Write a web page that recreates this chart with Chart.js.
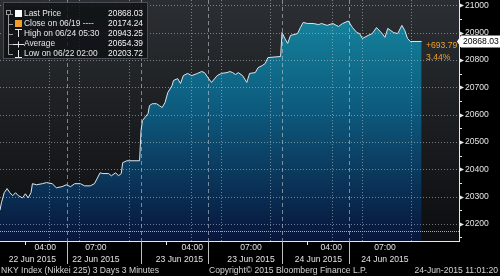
<!DOCTYPE html>
<html>
<head>
<meta charset="utf-8">
<script src="https://cdn.jsdelivr.net/npm/chart.js@4.4.1/dist/chart.umd.min.js"></script>
<style>
  html, body { margin: 0; padding: 0; background: #000; }
  canvas { display: block; }
</style>
</head>
<body>
<canvas id="nky" width="500" height="276"></canvas>
<script>
// NKY 3 days, 3 minute bars (x = bar number, 100 bars per trading day)
const bars = [
    0, 1, 3, 5, 7, 9, 11, 13, 16, 18, 20, 22, 23, 26, 30, 33, 37, 40, 44, 47,
    50, 53, 57, 60, 64, 67, 71, 73, 77, 79, 82, 84, 86, 87, 90, 99,
    100, 101, 105, 106, 108, 111, 113, 115, 117, 119, 122, 123, 126, 128, 130, 133, 136, 140,
    143, 145, 148, 150, 154, 157, 161, 163, 165, 167, 169, 172, 175, 177, 181, 183, 186, 188, 190, 199,
    200, 202, 204, 206, 211, 213, 215, 218, 222, 226, 228, 232, 236, 240, 243, 247, 250, 253,
    255, 257, 261, 264, 267, 271, 273, 275, 279, 282, 285, 287, 289, 291, 299
];
const prices = [
    20250, 20277, 20314, 20329, 20314, 20303, 20314, 20303, 20295, 20310, 20295, 20314, 20347, 20343, 20347, 20351, 20347, 20332, 20336, 20343,
    20336, 20347, 20347, 20339, 20339, 20347, 20387, 20384, 20384, 20376, 20387, 20376, 20384, 20424, 20431, 20431,
    20541, 20578, 20604, 20633, 20640, 20640, 20633, 20626, 20644, 20681, 20706, 20725, 20732, 20714, 20743, 20751, 20743, 20751,
    20758, 20754, 20732, 20718, 20743, 20751, 20754, 20758, 20754, 20747, 20754, 20743, 20718, 20751, 20754, 20772, 20780, 20787, 20809, 20813,
    20901, 20879, 20861, 20890, 20897, 20919, 20938, 20934, 20934, 20930, 20934, 20927, 20934, 20923, 20934, 20943, 20919, 20901,
    20897, 20879, 20890, 20897, 20919, 20897, 20883, 20916, 20901, 20897, 20927, 20909, 20879, 20868, 20868.03
];

const lastPrice = 20868.03;
const prevClose = 20174.24;
const highPrice = 20943.25;
const avgPrice = 20654.39;
const lowPrice = 20203.72;

const yTicks = [20200, 20300, 20400, 20500, 20600, 20700, 20800, 20900, 21000];
const yMinorTicks = [20150, 20250, 20350, 20450, 20550, 20650, 20750, 20850, 20950];

const gridBars = [35, 56, 91.5, 135.5, 156.5, 191.5, 235.5, 256.5, 291.5];
const sessionBars = [47.5, 100, 147.5, 200, 247.5];
const minorBars = [18, 118, 218];

const labelTimes = ['04:00', '07:00', '04:00', '07:00', '04:00', '07:00'];
const labelDates = ['22 Jun 2015', '22 Jun 2015', '23 Jun 2015', '23 Jun 2015', '24 Jun 2015', '24 Jun 2015'];
const labelBars = [39.7, 68, 144, 178, 242.5, 273];
const labelAlign = ['right', 'center', 'right', 'center', 'right', 'center'];

const legendNames = ['Last Price', 'Close on 06/19 ----', 'High on 06/24 05:30', 'Average', 'Low on 06/22 02:00'];
const legendValues = [lastPrice, prevClose, highPrice, avgPrice, lowPrice];

const FAMILY = '"Liberation Sans", Arial, sans-serif';
const FONT = '8.6px ' + FAMILY;
const ORANGE = '#f0a028';

function line(ctx, x1, y1, x2, y2) {
    ctx.beginPath();
    ctx.moveTo(x1, y1);
    ctx.lineTo(x2, y2);
    ctx.stroke();
}

function drawGrid(chart) {
    const { ctx, chartArea: a, scales: { x, y } } = chart;
    ctx.save();
    ctx.lineWidth = 1;
    ctx.strokeStyle = 'rgba(190,200,210,0.55)';
    ctx.setLineDash([1, 2]);
    yTicks.forEach(v => {
        const py = Math.round(y.getPixelForValue(v)) + 0.5;
        line(ctx, a.left, py, a.right, py);
    });
    gridBars.forEach(b => {
        const px = Math.round(x.getPixelForValue(b)) + 0.5;
        line(ctx, px, a.top, px, a.bottom);
    });
    ctx.setLineDash([4, 3]);
    ctx.strokeStyle = 'rgba(190,200,210,0.6)';
    sessionBars.forEach(b => {
        const px = Math.round(x.getPixelForValue(b)) + 0.5;
        line(ctx, px, a.top, px, a.bottom);
    });
    // previous close
    ctx.setLineDash([1, 1]);
    ctx.strokeStyle = '#e39a63';
    const cy = Math.round(y.getPixelForValue(prevClose)) + 0.5;
    line(ctx, a.left, cy, a.right, cy);
    ctx.restore();
}

function drawAxes(chart) {
    const { ctx, chartArea: a, scales: { x, y } } = chart;
    ctx.save();
    ctx.strokeStyle = '#e8e8e8';
    ctx.fillStyle = '#e8e8e8';
    ctx.lineWidth = 1;
    line(ctx, a.right + 0.5, a.top, a.right + 0.5, a.bottom + 1);
    line(ctx, a.left, a.bottom + 0.5, a.right + 1, a.bottom + 0.5);

    yTicks.forEach(v => {
        const py = Math.round(y.getPixelForValue(v)) + 0.5;
        ctx.beginPath();
        ctx.moveTo(a.right, py - 2.5);
        ctx.lineTo(a.right + 5, py);
        ctx.lineTo(a.right, py + 2.5);
        ctx.closePath();
        ctx.fill();
    });
    yMinorTicks.forEach(v => {
        const py = Math.round(y.getPixelForValue(v)) + 0.5;
        line(ctx, a.right, py, a.right + 3, py);
    });

    minorBars.forEach(b => {
        const px = Math.round(x.getPixelForValue(b)) + 0.5;
        line(ctx, px, a.bottom, px, a.bottom + 4);
    });
    ctx.strokeStyle = '#bfbfbf';
    sessionBars.forEach(b => {
        const px = Math.round(x.getPixelForValue(b)) + 0.5;
        line(ctx, px, a.bottom, px, a.bottom + 23);
    });

    ctx.font = FONT;
    ctx.fillStyle = '#e2e2e2';
    ctx.textBaseline = 'middle';
    labelBars.forEach((b, i) => {
        const px = x.getPixelForValue(b);
        ctx.textAlign = labelAlign[i];
        ctx.fillText(labelTimes[i], px, a.bottom + 6.5);
        ctx.fillText(labelDates[i], px, a.bottom + 18.5);
    });
    ctx.restore();
}

function drawLegend(chart) {
    const ctx = chart.ctx;
    ctx.save();
    ctx.fillStyle = 'rgba(14,16,19,0.82)';
    ctx.fillRect(3.5, 2.5, 144, 56);
    ctx.strokeStyle = '#4b4f54';
    ctx.lineWidth = 1;
    ctx.strokeRect(3.5, 2.5, 144, 56);

    const rowY = [13.5, 23.5, 33.5, 44, 54];
    // tree connector
    ctx.strokeStyle = '#9a9a9a';
    line(ctx, 8.5, 14, 8.5, 54.5);
    rowY.forEach(ry => line(ctx, 8.5, Math.round(ry) + 0.5, 13, Math.round(ry) + 0.5));
    ctx.strokeRect(6.5, 10.5, 4, 4);

    // icons
    ctx.fillStyle = '#ffffff';
    ctx.fillRect(15, 10, 7, 7);
    ctx.fillStyle = ORANGE;
    ctx.fillRect(15, 20, 7, 7);
    ctx.strokeStyle = '#e8e8e8';
    line(ctx, 15, 29.5, 22, 29.5);
    line(ctx, 18.5, 29.5, 18.5, 37);
    line(ctx, 13, 44.5, 24, 44.5);
    line(ctx, 18.5, 41.5, 18.5, 47.5);
    line(ctx, 18.5, 50, 18.5, 57.5);
    line(ctx, 15, 57.5, 22, 57.5);

    ctx.font = '8.4px ' + FAMILY;
    ctx.textBaseline = 'middle';
    legendNames.forEach((name, i) => {
        ctx.fillStyle = '#e6e6e6';
        ctx.textAlign = 'left';
        ctx.fillText(name, 24, rowY[i]);
        ctx.fillStyle = '#f2f2f2';
        ctx.textAlign = 'right';
        ctx.fillText(legendValues[i].toFixed(2), 143, rowY[i]);
    });
    ctx.restore();
}

function drawLastPrice(chart) {
    const { ctx, chartArea: a, scales: { y } } = chart;
    const py = y.getPixelForValue(lastPrice);
    const change = lastPrice - prevClose;
    const pct = change / prevClose * 100;
    ctx.save();
    ctx.font = FONT;
    ctx.textBaseline = 'middle';
    ctx.fillStyle = ORANGE;
    ctx.textAlign = 'left';
    ctx.fillText('+' + change.toFixed(2), 426, py + 4);
    ctx.fillText(pct.toFixed(2) + '%', 426, py + 16);

    ctx.fillStyle = '#ffffff';
    ctx.beginPath();
    ctx.moveTo(a.right - 2, py);
    ctx.lineTo(a.right + 2, py - 6);
    ctx.lineTo(chart.width, py - 6);
    ctx.lineTo(chart.width, py + 6);
    ctx.lineTo(a.right + 2, py + 6);
    ctx.closePath();
    ctx.fill();
    ctx.fillStyle = '#000000';
    ctx.fillText(lastPrice.toFixed(2), a.right + 4, py + 0.5);
    ctx.restore();
}

function drawFooter(chart) {
    const ctx = chart.ctx;
    ctx.save();
    ctx.font = FONT;
    ctx.fillStyle = '#d4d4d4';
    ctx.textBaseline = 'middle';
    ctx.textAlign = 'left';
    ctx.fillText('NKY Index (Nikkei 225) 3 Days 3 Minutes', 1, 270.5);
    ctx.fillText('Copyright\u00a9 2015 Bloomberg Finance L.P.', 209, 270.5);
    ctx.textAlign = 'right';
    ctx.fillText('24-Jun-2015 11:01:20', 498, 270.5);
    ctx.restore();
}

const bloombergLook = {
    id: 'bloombergLook',
    beforeDraw(chart) {
        const { ctx, chartArea: a } = chart;
        ctx.save();
        ctx.fillStyle = '#000';
        ctx.fillRect(0, 0, chart.width, chart.height);
        const g = ctx.createLinearGradient(0, a.top, 0, a.bottom);
        g.addColorStop(0, '#2b2f33');
        g.addColorStop(1, '#0c0d0f');
        ctx.fillStyle = g;
        ctx.fillRect(a.left, a.top, a.right - a.left, a.bottom - a.top);
        ctx.restore();
    },
    beforeDatasetDraw(chart) {
        drawGrid(chart);
    },
    afterDraw(chart) {
        drawAxes(chart);
        drawLegend(chart);
        drawLastPrice(chart);
        drawFooter(chart);
    }
};

function areaGradient(context) {
    const a = context.chart.chartArea;
    if (!a) return 'transparent';
    const g = context.chart.ctx.createLinearGradient(0, a.top, 0, a.bottom);
    g.addColorStop(0, '#168aa2');
    g.addColorStop(0.45, '#0d5b7e');
    g.addColorStop(1, '#08153b');
    return g;
}

new Chart(document.getElementById('nky'), {
    type: 'line',
    data: {
        datasets: [{
            label: 'Last Price',
            data: bars.map((b, i) => ({ x: b, y: prices[i] })),
            borderColor: '#dde5ea',
            borderWidth: 1,
            backgroundColor: areaGradient,
            fill: 'start',
            pointRadius: 0,
            tension: 0
        }]
    },
    options: {
        responsive: false,
        devicePixelRatio: 1,
        animation: false,
        layout: { padding: 0 },
        plugins: {
            legend: { display: false },
            tooltip: { enabled: false }
        },
        scales: {
            x: {
                type: 'linear',
                min: 0,
                max: 325.5,
                ticks: { display: false },
                grid: { display: false, drawTicks: false },
                border: { display: false },
                afterFit: s => { s.height = 35; s.paddingLeft = 0; s.paddingRight = 0; }
            },
            y: {
                type: 'linear',
                position: 'right',
                min: 20137,
                max: 21020,
                afterBuildTicks: s => { s.ticks = yTicks.map(v => ({ value: v })); },
                afterFit: s => { s.width = 41; s.paddingTop = 0; s.paddingBottom = 0; },
                grid: { display: false, drawTicks: false },
                border: { display: false },
                ticks: {
                    color: '#e4e4e4',
                    padding: 6,
                    font: { family: FAMILY, size: 8.6 },
                    callback: v => String(v)
                }
            }
        }
    },
    plugins: [bloombergLook]
});
</script>
</body>
</html>
